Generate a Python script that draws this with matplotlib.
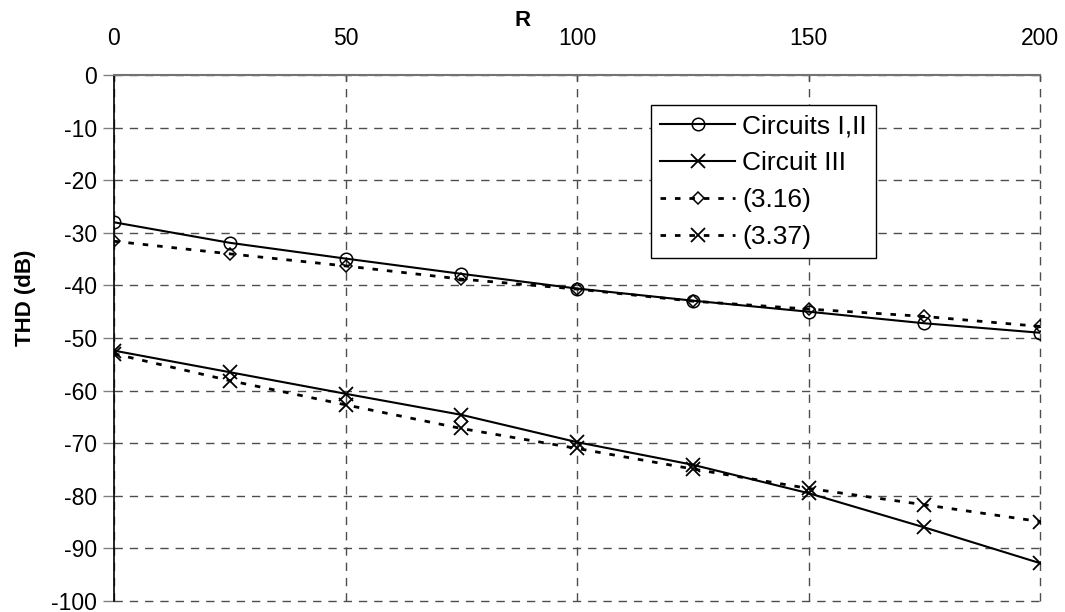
import matplotlib
matplotlib.use("Agg")
import matplotlib.pyplot as plt

plt.rcParams['font.family'] = ['Liberation Sans', 'DejaVu Sans']
plt.rcParams['axes.unicode_minus'] = False

R = [0, 25, 50, 75, 100, 125, 150, 175, 200]
circuits_I_II = [-28.0, -31.9, -34.9, -37.8, -40.6, -42.9, -45.0, -47.2, -49.0]
circuit_III = [-52.4, -56.5, -60.6, -64.6, -69.8, -74.1, -79.5, -86.0, -92.8]
eq_3_16 = [-31.6, -34.0, -36.3, -38.8, -40.7, -43.0, -44.5, -45.9, -47.8]
eq_3_37 = [-53.0, -58.1, -62.7, -67.2, -71.0, -74.9, -78.6, -81.7, -84.9]

labels = ["Circuits I,II", "Circuit III", "(3.16)", "(3.37)"]
xticks = [0, 50, 100, 150, 200]
yticks = list(range(0, -101, -10))

fig = plt.figure(figsize=(10.65, 6.12), dpi=100)
ax = fig.add_axes([114/1065, 1-601/612, (1040-114)/1065, (601-75)/612])

dot = (0, (2.0, 3.2))
ax.plot(R, circuits_I_II, color='black', lw=1.5, marker='o', ms=9,
        mfc='none', mec='black', mew=1.1, label=labels[0], zorder=3)
ax.plot(R, circuit_III, color='black', lw=1.5, marker='x', ms=9.5,
        mec='black', mew=1.3, label=labels[1], zorder=3)
ax.plot(R, eq_3_16, color='black', lw=2.0, ls=dot, marker='D', ms=6.5,
        mfc='none', mec='black', mew=1.1, label=labels[2], zorder=3)
ax.plot(R, eq_3_37, color='black', lw=2.0, ls=dot, marker='x', ms=9.5,
        mec='black', mew=1.3, label=labels[3], zorder=3)

ax.set_xlim(0, 200)
ax.set_ylim(-100, 0)
ax.set_xticks(xticks)
ax.set_yticks(yticks)
ax.xaxis.tick_top()
ax.tick_params(axis='x', direction='in', length=4, width=1, color='0.3',
               pad=18, labelsize=16.5)
ax.tick_params(axis='y', direction='out', length=8, width=1, color='0.5',
               pad=4, labelsize=16.5)

for s in ['right', 'bottom']:
    ax.spines[s].set_visible(False)
ax.spines['top'].set_color('0.45')
ax.spines['top'].set_linewidth(1.5)
ax.spines['left'].set_color('black')
ax.spines['left'].set_linewidth(1.2)

ax.grid(True, color='0.3', ls=(0, (6, 5)), lw=1.0)
for gl in ax.get_xgridlines() + ax.get_ygridlines():
    gl.set_clip_on(False)
ax.set_axisbelow(True)

fig.text(523/1065, 1-20/612, "R", ha='center', va='center',
         fontsize=16, fontweight='bold')
fig.text(25/1065, 1-298/612, "THD (dB)", ha='center', va='center',
         rotation=90, fontsize=16, fontweight='bold')

leg = ax.legend(loc='upper left', bbox_to_anchor=((651-114)/926, 1-(105-75)/526),
                fontsize=19, frameon=True, fancybox=False, edgecolor='black',
                handlelength=2.85, handletextpad=0.25, labelspacing=0.49,
                borderpad=0.35, borderaxespad=0)
leg.get_frame().set_linewidth(1.0)
leg.get_frame().set_alpha(1)

fig.savefig("out.png", dpi=100, facecolor='white')
